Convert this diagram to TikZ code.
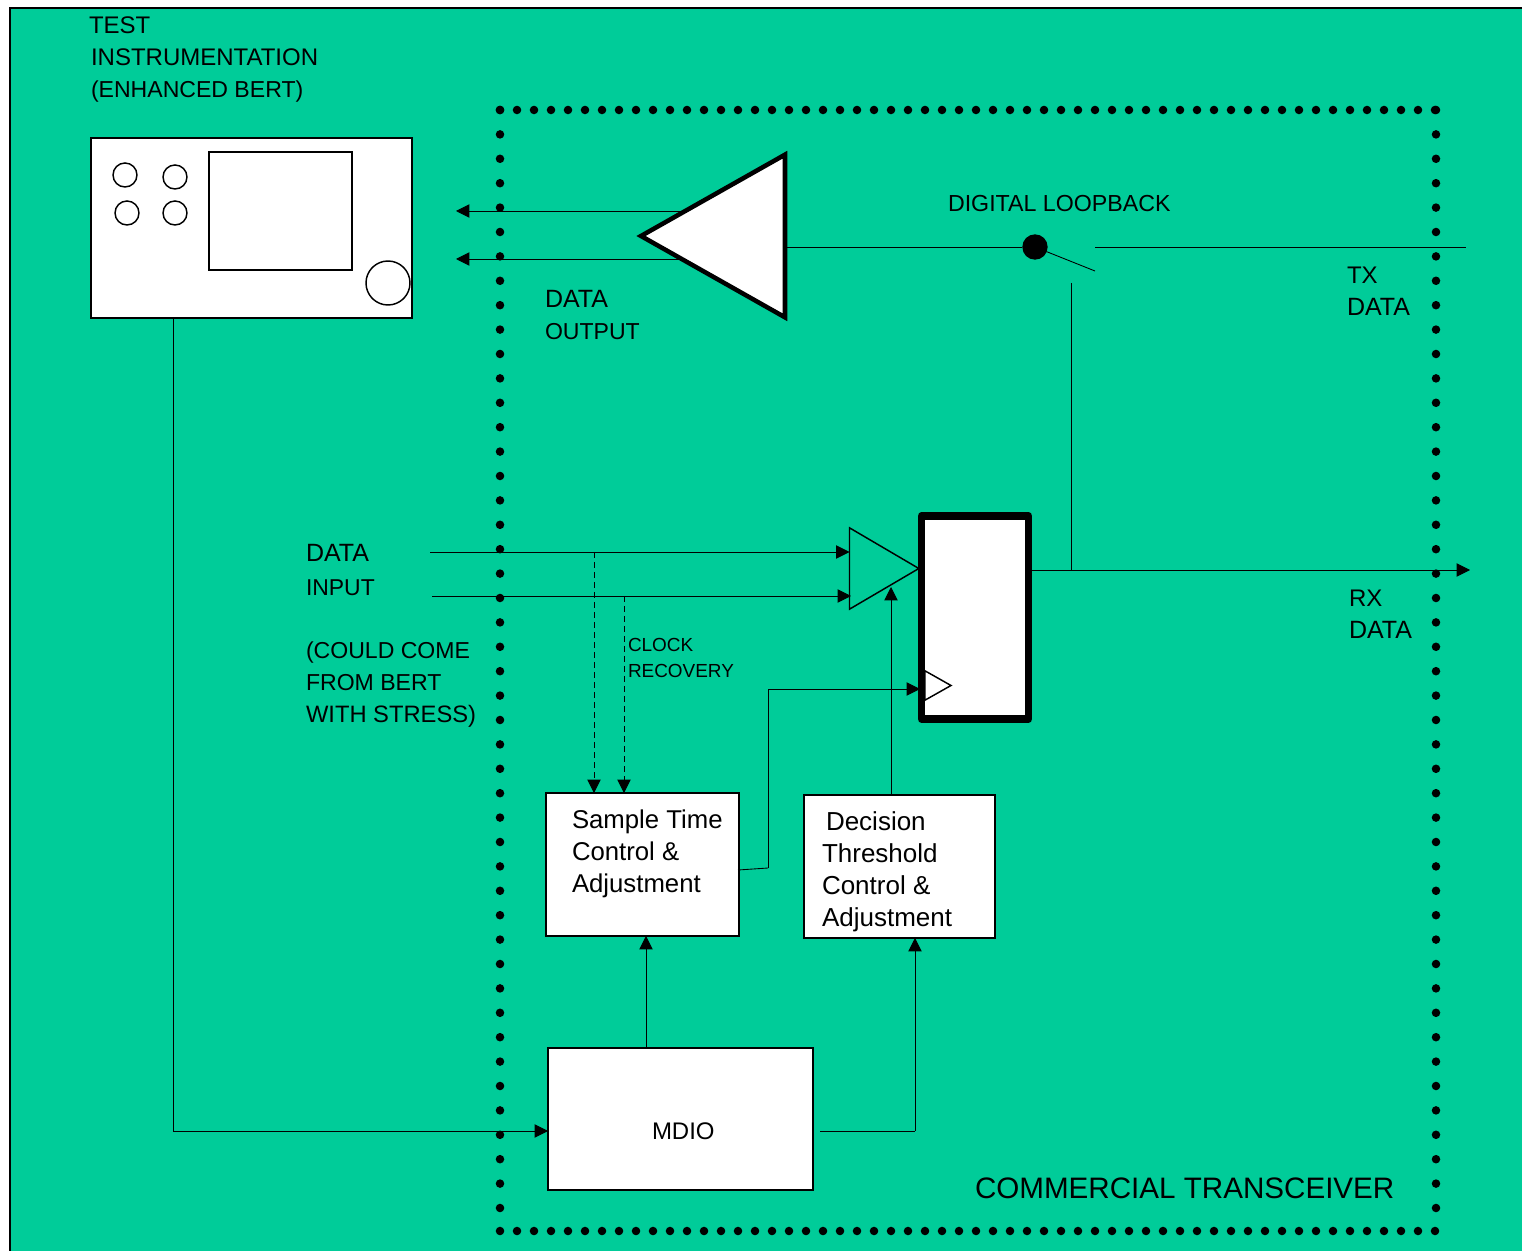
\documentclass[tikz,border=0pt]{standalone}
\usepackage{fontspec}
\setmainfont{Liberation Sans}
\usetikzlibrary{positioning,arrows.meta,shapes.geometric}
\definecolor{panel}{HTML}{00CC99}
\newcommand{\widecaps}[1]{{\fontsize{18.75pt}{24pt}\selectfont #1}}
\newcommand{\narrowcaps}[1]{{\fontsize{17.3pt}{24pt}\selectfont #1}}

\begin{document}
\begin{tikzpicture}[x=0.75pt, y=-0.75pt,
  every node/.style={outer sep=0pt},
  blk/.style={draw, fill=white, line width=1.1pt, inner sep=0pt},
  knob/.style={draw, fill=white, circle, line width=1.1pt, inner sep=0pt, minimum size=18pt},
  tri/.style={draw, isosceles triangle, isosceles triangle stretches, inner sep=0pt, anchor=lower side, line width=1.1pt},
  conn/.style={line width=0.65pt},
  wit/.style={-{Triangle[length=10pt, width=10pt]}, line width=0.65pt},
  unwit/.style={wit, dash pattern=on 4.5pt off 3pt},
  dotsh/.style={line width=6.4pt, line cap=round, dash pattern=on 0pt off 12.75pt},
  dotsv/.style={line width=6.4pt, line cap=round, dash pattern=on 0pt off 18.3pt},
  lab/.style={font=\fontsize{#1}{24pt}\selectfont, align=left, inner sep=0pt, anchor=north west},
  lab/.default=18pt,
  smalllab/.style={lab, font=\fontsize{14.2pt}{19.5pt}\selectfont}]

\useasboundingbox (0,0) rectangle (1522,1251);
\fill[white] (0,0) rectangle (1522,1251);
\draw[fill=panel, line width=1.1pt] (10,8) rectangle (1540,1270);

\coordinate (boxtl) at (500,110);
\coordinate (boxtr) at (1436,110);
\coordinate (boxbl) at (500,1231);
\coordinate (boxbr) at (1436,1231);
\draw[dotsh] (boxtl) -- (boxtr);
\draw[dotsh] (boxbl) -- (boxbr);
\draw[dotsv] (boxtl) -- (boxbl);
\draw[dotsv] (boxtr) -- (boxbr);

\node[blk, minimum width=240.75pt, minimum height=135pt] (bert) at (251.5,228) {};
\node[blk, minimum width=107.25pt, minimum height=88.5pt] (screen) at (280.5,211) {};
\node[knob] (knoba) at (125,175) {};
\node[knob] (knobb) at (175,177) {};
\node[knob] (knobc) at (127,213) {};
\node[knob] (knobd) at (175,213) {};
\node[knob, minimum size=33pt] (dial) at (388,283) {};

\coordinate (ampouta) at (684,211);
\coordinate (ampoutb) at (680,259);
\coordinate (outa) at (456,211);
\coordinate (outb) at (456,259);
\draw[wit] (ampouta) -- (outa);
\draw[wit] (ampoutb) -- (outb);

\node[tri, shape border rotate=180, fill=white, line width=3.4pt, minimum height=108pt, minimum width=122pt] (amp) at (785,236) {};
\node[circle, fill=black, minimum size=19pt, inner sep=0pt] (loop) at (1035,247) {};
\coordinate (swa) at (1095,271);
\coordinate (txa) at (1095,247);
\coordinate (txb) at (1466,247);
\draw[conn] (amp.lower side |- loop) -- (loop);
\draw[conn] (loop) -- (swa);
\draw[conn] (txa) -- (txb);

\node[blk, line width=5.6pt, line join=round, minimum width=80.25pt, minimum height=152.25pt] (flop) at (975,617.5) {};
\node[tri, minimum height=52pt, minimum width=61pt] (buf) at (849.5,568.5) {};
\node[tri, fill=white, minimum height=19.5pt, minimum width=22pt] (clk) at (925,685.5) {};

\node[blk, minimum width=144.75pt, minimum height=107.25pt] (sample) at (642.5,864.5) {};
\node[blk, right=48.75pt of sample, yshift=-1.5pt, minimum width=143.25pt, minimum height=107.25pt] (decision) {};
\node[blk, minimum width=198.75pt, minimum height=106.5pt] (mdio) at (680.5,1119) {};

\coordinate (rxtap) at (1071,570);
\coordinate (rxend) at (1470,570);
\coordinate (swb) at (1071,283);
\draw[conn] (swb) -- (rxtap);
\draw[wit] (flop.east |- rxtap) -- (rxend);

\coordinate (dina) at (430,552);
\coordinate (dinb) at (432,596);
\coordinate (clra) at (594,552);
\coordinate (clrb) at (624,596);
\draw[wit] (dina) -- (buf.lower side |- dina);
\draw[wit] (dinb) -- (851,596);
\draw[unwit] (clra) -- (clra |- sample.north);
\draw[unwit] (clrb) -- (clrb |- sample.north);

\coordinate (clkbend) at (768,868);
\draw[conn] (738,870) -- (clkbend);
\draw[wit] (clkbend) |- (920,689);
\draw[wit] (decision.north -| 891,0) -- (891,587);
\draw[wit] (mdio.north -| 646,0) -- (646,936);
\coordinate (mdout) at (820,1131);
\coordinate (mdbend) at (915,1131);
\draw[conn] (mdout) -- (mdbend);
\draw[wit] (mdbend) -- (mdbend |- decision.south);
\coordinate (bertout) at (173,1131);
\draw[conn] (bert.south -| bertout) -- (bertout);
\draw[wit] (bertout) -- (mdio.west |- bertout);

\node[lab] (title) at (91,17) {\hspace*{-1.5pt}TEST\\INSTRUMENTATION\\\narrowcaps{(ENHANCED BERT)}};
\node[lab=17.3pt] (dataout) at (545,290) {\widecaps{DATA}\\OUTPUT};
\node[lab=17.4pt] (looplab) at (948,195) {DIGITAL LOOPBACK};
\node[lab] (txlab) at (1347,267) {TX\\\widecaps{DATA}};
\node[lab] (rxlab) at (1349,590) {RX\\\widecaps{DATA}};
\node[lab, font=\fontsize{17.2pt}{25.5pt}\selectfont] (datain) at (306,544) {\widecaps{DATA}\\INPUT};
\node[lab=17.8pt] (stress) at (306,642) {\narrowcaps{(COULD COME}\\\narrowcaps{FROM BERT}\\WITH STRESS)};
\node[smalllab] (clklab) at (628,638) {CLOCK\\RECOVERY};
\node[lab=19.3pt, below right=12.5pt and 19.5pt of sample.north west] (samplelab) {Sample Time\\Control \&\\Adjustment};
\node[lab=19.5pt, below right=12.5pt and 13.5pt of decision.north west] (decisionlab) {\hspace*{3pt}Decision\\Threshold\\Control \&\\Adjustment};
\node[lab, below right=56pt and 78pt of mdio.north west] (mdiolab) {MDIO};
\node[lab, font=\fontsize{22.2pt}{27pt}\selectfont] (xcvr) at (975,1178) {COMMERCIAL TRANSCEIVER};
\end{tikzpicture}
\end{document}
